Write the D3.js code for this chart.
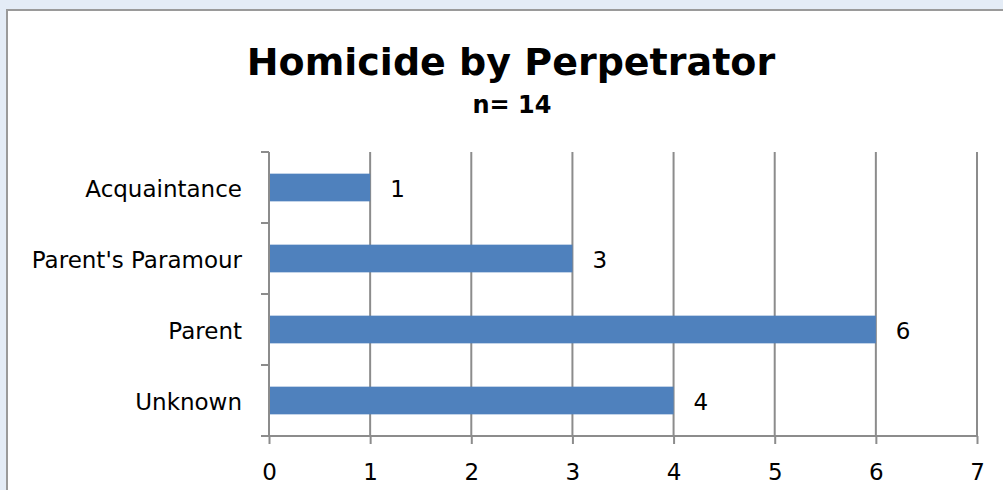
<!DOCTYPE html>
<html lang="en">
<head>
  <meta charset="UTF-8">
  <title>Homicide by Perpetrator</title>
  <script src="https://d3js.org/d3.v7.min.js"></script>
  <style>
    body { margin: 0; padding: 0; background: #e4ecf6; overflow: hidden; }
    svg { display: block; font-family: "DejaVu Sans", Verdana, sans-serif; }
    .grid line { stroke: #8c8c8c; stroke-width: 2; }
    .axis path, .axis line { stroke: #8c8c8c; stroke-width: 2; }
    .axis text { fill: #000; }
  </style>
</head>
<body>
  <div id="chart"></div>
  <script>
    // data
    const categories = ["Acquaintance", "Parent's Paramour", "Parent", "Unknown"];
    const counts = [1, 3, 6, 4];
    const xTicks = [0, 1, 2, 3, 4, 5, 6, 7];
    const title = "Homicide by Perpetrator";
    const subtitle = "n= 14";

    const fullW = 1003, fullH = 490;
    const plot = { left: 269, right: 977, top: 152, bottom: 436 };
    const labelFont = "DejaVu Sans, Verdana, sans-serif";

    const svg = d3.select("#chart").append("svg")
      .attr("width", fullW).attr("height", fullH);

    // chart box
    svg.append("rect")
      .attr("x", 7).attr("y", 10)
      .attr("width", fullW + 10).attr("height", fullH)
      .attr("fill", "#fff")
      .attr("stroke", "#9a9a9a").attr("stroke-width", 2);

    svg.append("text")
      .attr("x", 511).attr("y", 75)
      .attr("text-anchor", "middle")
      .style("font-size", "38px").style("font-weight", "bold")
      .text(title);
    svg.append("text")
      .attr("x", 512).attr("y", 113)
      .attr("text-anchor", "middle")
      .style("font-size", "24px").style("font-weight", "bold")
      .text(subtitle);

    const x = d3.scaleLinear().domain([0, 7]).range([plot.left, plot.right]);
    const y = d3.scaleBand().domain(categories).range([plot.top, plot.bottom]).paddingInner(0.61).paddingOuter(0.305);

    // gridlines
    svg.append("g").attr("class", "grid")
      .selectAll("line").data(xTicks.slice(1)).enter().append("line")
        .attr("x1", d => x(d)).attr("x2", d => x(d))
        .attr("y1", plot.top).attr("y2", plot.bottom);

    // bars
    svg.append("g").selectAll("rect")
      .data(categories).enter().append("rect")
        .attr("x", x(0))
        .attr("y", (d) => y(d))
        .attr("width", (d, i) => x(counts[i]) - x(0))
        .attr("height", y.bandwidth())
        .attr("fill", "#4f81bd");

    // value labels
    svg.append("g").selectAll("text")
      .data(categories).enter().append("text")
        .attr("x", (d, i) => x(counts[i]) + 20)
        .attr("y", d => y(d) + y.bandwidth() / 2)
        .attr("dy", "0.4em")
        .style("font-size", "23px")
        .text((d, i) => counts[i]);

    // x axis
    const xAxis = svg.append("g").attr("class", "axis")
      .attr("transform", `translate(0,${plot.bottom})`)
      .call(d3.axisBottom(x).tickValues(xTicks).tickFormat(d3.format("d")).tickSize(8).tickPadding(20).tickSizeOuter(0))
      .attr("font-size", 23).attr("font-family", labelFont);
    xAxis.select(".domain").attr("d", `M${plot.left - 8},0H${plot.right}`);

    // y axis with boundary ticks
    const yAxis = svg.append("g").attr("class", "axis")
      .attr("transform", `translate(${plot.left},0)`)
      .call(d3.axisLeft(y).tickSize(0).tickPadding(27))
      .attr("font-size", 23).attr("font-family", labelFont);
    yAxis.selectAll(".tick text").attr("dy", "0.42em");
    yAxis.select(".domain").attr("d", `M0,${plot.top}V${plot.bottom}`);
    const bounds = d3.range(categories.length).map(i => y.step() * i + plot.top);
    yAxis.selectAll(".bound").data(bounds).enter().append("line")
      .attr("class", "bound")
      .attr("x1", -8).attr("x2", 0)
      .attr("y1", d => d).attr("y2", d => d)
      .attr("stroke", "#8c8c8c").attr("stroke-width", 2);
  </script>
</body>
</html>
